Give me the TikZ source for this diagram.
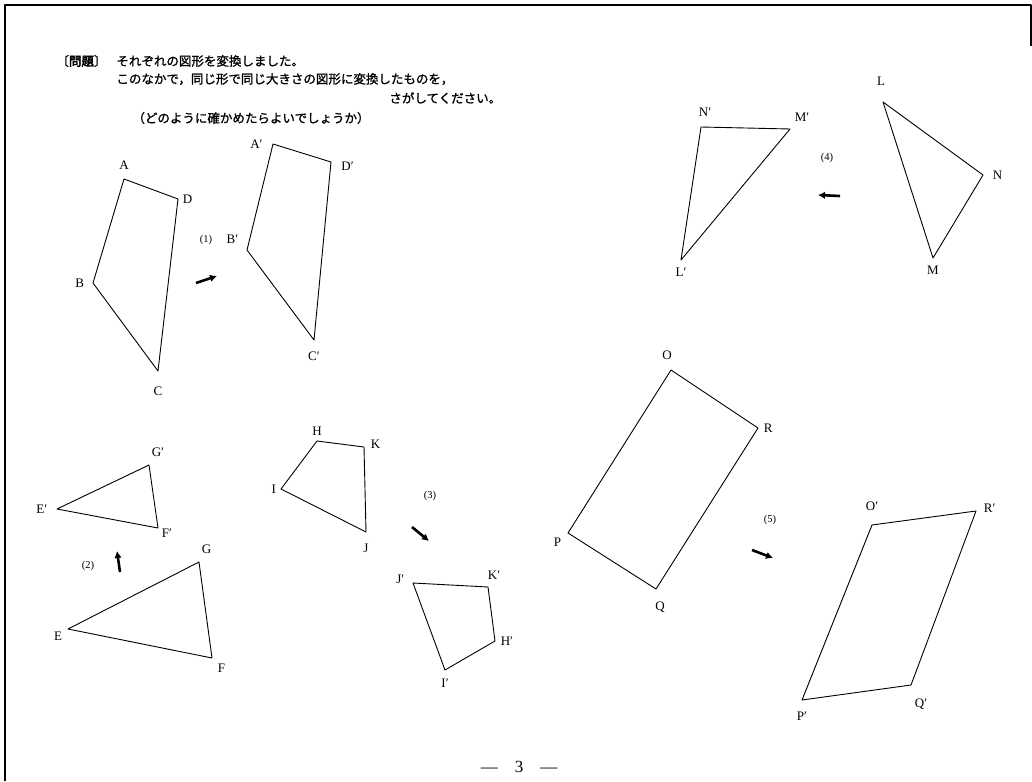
\documentclass[tikz,border=0pt]{standalone}
\usepackage{fontspec}
\setmainfont{Liberation Serif}
\newfontfamily\jpfont{Noto Sans CJK JP}[FakeBold=1.2]
\newfontfamily\jpboldfont{Noto Sans CJK JP}[FakeBold=3.5]
\usetikzlibrary{positioning,arrows.meta}

\begin{document}
\begin{tikzpicture}[x=1pt,y=1pt,line width=0.9pt,line join=round,
  vertex label/.style={inner sep=1pt,font=\fontsize{13}{13}\selectfont},
  case tag/.style={inner sep=1pt,font=\fontsize{10.5}{10.5}\selectfont},
  jp text/.style={inner sep=0pt,anchor=west,font=\jpfont\fontsize{12.5}{12.5}\selectfont},
  map arrow/.style={line width=2.6pt,-{Latex[length=7pt,width=7.5pt]}}]
            \useasboundingbox (0,0) rectangle (1032,-781);

            % frame of the page
            \coordinate (f1) at (5,-781);
            \coordinate (f2) at (5,-5);
            \coordinate (f3) at (1031,-5);
            \coordinate (f4) at (1031,-46);
            \draw[line width=1.6pt] (f1) -- (f2) -- (f3) -- (f4);

            % question
            \node[jp text] (q0) at (56,-61){〔{\jpboldfont 問題}〕};
            \node[jp text] (q1) at (116,-61){それぞれの図形を変換しました。};
            \node[jp text] (q2) at (116,-79){このなかで，同じ形で同じ大きさの図形に変換したものを，};
            \node[jp text] (q3) at (389,-98){さがしてください。};
            \node[jp text] (q4) at (132,-118){（どのように確かめたらよいでしょうか）};

            % (1)
            \coordinate (A) at (124,-179);
            \coordinate (D) at (178,-199);
            \coordinate (C) at (158,-371);
            \coordinate (B) at (93,-283);
            \coordinate (Ap) at (273,-144);
            \coordinate (Dp) at (331,-162);
            \coordinate (Cp) at (314,-340);
            \coordinate (Bp) at (247,-250);
            \draw (A) -- (D) -- (C) -- (B) -- cycle;
            \draw (Ap) -- (Dp) -- (Cp) -- (Bp) -- cycle;
            \node[vertex label] (lA) [above = 8pt of A]{A};
            \node[vertex label] (lD) [right = 3.5pt of D]{D};
            \node[vertex label] (lB) [left = 7.5pt of B]{B};
            \node[vertex label] (lC) [below = 14pt of C]{C};
            \node[vertex label] (lAp) [left = 9pt of Ap]{A′};
            \node[vertex label] (lDp) [right = 9pt of Dp, yshift = -4]{D′};
            \node[vertex label] (lBp) [above left = 4.7pt and 7.4pt of Bp]{B′};
            \node[vertex label] (lCp) [below = 10pt of Cp]{C′};
            \coordinate (a1s) at (196,-283);
            \coordinate (a1e) at (217,-276);
            \draw[map arrow] (a1s) -- (a1e);
            \node[case tag] (t1) at (206,-240){(1)};

            % (2)
            \coordinate (Ep) at (57,-509);
            \coordinate (Gp) at (149,-465);
            \coordinate (Fp) at (158,-528);
            \coordinate (E) at (68,-629);
            \coordinate (G) at (199,-562);
            \coordinate (F) at (212,-658);
            \draw (Ep) -- (Gp) -- (Fp) -- cycle;
            \draw (E) -- (G) -- (F) -- cycle;
            \node[vertex label] (lGp) [above right = 6.7pt and 1.4pt of Gp]{G′};
            \node[vertex label] (lEp) [left = 8.4pt of Ep]{E′};
            \node[vertex label] (lFp) [below right = 0pt and 2.4pt of Fp]{F′};
            \node[vertex label] (lG) [above right = 6.7pt and 1.5pt of G]{G};
            \node[vertex label] (lE) [below left = 1.7pt and 4.5pt of E]{E};
            \node[vertex label] (lF) [below right = 4.7pt and 4.5pt of F]{F};
            \coordinate (a2s) at (120,-572);
            \coordinate (a2e) at (117,-551);
            \draw[map arrow] (a2s) -- (a2e);
            \node[case tag] (t2) at (88,-566){(2)};

            % (3)
            \coordinate (H) at (317,-441);
            \coordinate (K) at (364,-447);
            \coordinate (J) at (366,-532);
            \coordinate (I) at (281,-489);
            \coordinate (Jp) at (413,-583);
            \coordinate (Kp) at (488,-587);
            \coordinate (Hp) at (495,-641);
            \coordinate (Ip) at (445,-670);
            \draw (H) -- (K) -- (J) -- (I) -- cycle;
            \draw (Jp) -- (Kp) -- (Hp) -- (Ip) -- cycle;
            \node[vertex label] (lH) [above = 3.7pt of H]{H};
            \node[vertex label] (lK) [right = 5.5pt of K, yshift = 3]{K};
            \node[vertex label] (lI) [left = 3.5pt of I]{I};
            \node[vertex label] (lJ) [below = 10.7pt of J]{J};
            \node[vertex label] (lJp) [left = 7.4pt of Jp, yshift = 4]{J′};
            \node[vertex label] (lKp) [above = 6.5pt of Kp, xshift = 6]{K′};
            \node[vertex label] (lHp) [right = 4.4pt of Hp]{H′};
            \node[vertex label] (lIp) [below = 7.7pt of Ip]{I′};
            \coordinate (a3s) at (412,-527);
            \coordinate (a3e) at (429,-541);
            \draw[map arrow] (a3s) -- (a3e);
            \node[case tag] (t3) at (430,-496){(3)};

            % (4)
            \coordinate (Np) at (701,-127);
            \coordinate (Mp) at (790,-129);
            \coordinate (Lp) at (681,-260);
            \coordinate (L) at (883,-102);
            \coordinate (N) at (983,-175);
            \coordinate (M) at (933,-258);
            \draw (Np) -- (Mp) -- (Lp) -- cycle;
            \draw (L) -- (N) -- (M) -- cycle;
            \node[vertex label] (lNp) [above = 8.7pt of Np, xshift = 4]{N′};
            \node[vertex label] (lMp) [above right = 5.7pt and 3.4pt of Mp]{M′};
            \node[vertex label] (lLp) [below = 6.7pt of Lp]{L′};
            \node[vertex label] (lL) [above = 14.7pt of L, xshift = -2]{L};
            \node[vertex label] (lN) [right = 8.5pt of N]{N};
            \node[vertex label] (lM) [below = 6.7pt of M]{M};
            \coordinate (a4s) at (840,-196);
            \coordinate (a4e) at (818,-195);
            \draw[map arrow] (a4s) -- (a4e);
            \node[case tag] (t4) at (827,-158){(4)};

            % (5)
            \coordinate (O) at (671,-370);
            \coordinate (R) at (758,-428);
            \coordinate (Q) at (656,-589);
            \coordinate (P) at (568,-533);
            \coordinate (Op) at (872,-525);
            \coordinate (Rp) at (976,-511);
            \coordinate (Qp) at (911,-685);
            \coordinate (Pp) at (802,-700);
            \draw (O) -- (R) -- (Q) -- (P) -- cycle;
            \draw (Op) -- (Rp) -- (Qp) -- (Pp) -- cycle;
            \node[vertex label] (lO) [above = 8.7pt of O, xshift = -4]{O};
            \node[vertex label] (lR) [right = 4.5pt of R]{R};
            \node[vertex label] (lP) [below left = 3.7pt and 5.5pt of P]{P};
            \node[vertex label] (lQ) [below = 11.7pt of Q, xshift = 4]{Q};
            \node[vertex label] (lOp) [above = 12.7pt of Op]{O′};
            \node[vertex label] (lRp) [right = 6.4pt of Rp, yshift = 3]{R′};
            \node[vertex label] (lQp) [below right = 12.7pt and 2.4pt of Qp]{Q′};
            \node[vertex label] (lPp) [below = 10.7pt of Pp]{P′};
            \coordinate (a5s) at (752,-550);
            \coordinate (a5e) at (773,-558);
            \draw[map arrow] (a5s) -- (a5e);
            \node[case tag] (t5) at (770,-520){(5)};

            % page number
            \node[font=\fontsize{17}{17}\selectfont] (pg) at (519,-767){—\quad 3\quad —};
        \end{tikzpicture}
\end{document}
